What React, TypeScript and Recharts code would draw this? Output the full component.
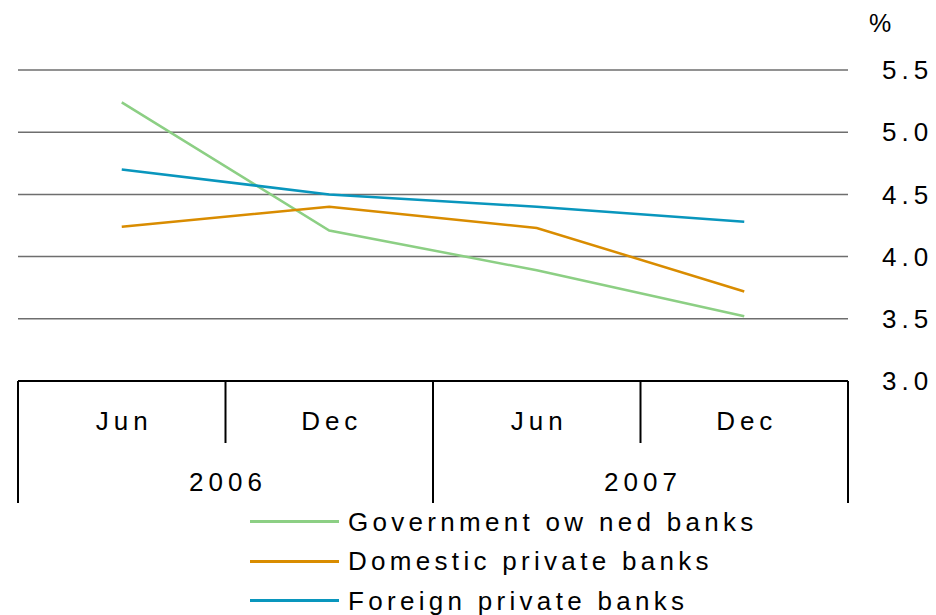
import { CartesianGrid, Line, LineChart, XAxis, YAxis } from "recharts";

const months = ["Jun", "Dec", "Jun", "Dec"];
const years = ["2006", "2006", "2007", "2007"];
const governmentOwned = [5.24, 4.21, 3.89, 3.52];
const domesticPrivate = [4.24, 4.4, 4.23, 3.72];
const foreignPrivate = [4.7, 4.5, 4.4, 4.28];
const yTicks = [3.0, 3.5, 4.0, 4.5, 5.0, 5.5];

const series = [
  { key: "government", name: "Government ow ned banks", color: "#8ccf84", values: governmentOwned },
  { key: "domestic", name: "Domestic private banks", color: "#d98c00", values: domesticPrivate },
  { key: "foreign", name: "Foreign private banks", color: "#0996bd", values: foreignPrivate },
];

const data = months.map((month, i) => {
  const row: Record<string, string | number> = { id: `${month} ${years[i]}` };
  series.forEach((s) => {
    row[s.key] = s.values[i];
  });
  return row;
});

const FONT = "'Liberation Sans', Arial, sans-serif";
const PLOT_WIDTH = 830;
const BAND = PLOT_WIDTH / months.length;
const AXIS_SPACING = 5;

function PeriodTick(props: any) {
  const { x, y, payload } = props;
  const i: number = props.index ?? payload.index;
  const left = x - BAND / 2;
  const yearStart = i === 0 || years[i] !== years[i - 1];
  const last = i === months.length - 1;
  const textStyle = { fontFamily: FONT, fontSize: 26, letterSpacing: AXIS_SPACING, fill: "#000" };

  return (
    <g>
      <line x1={left} x2={left} y1={y} y2={y + (yearStart ? 122 : 62)} stroke="#000" strokeWidth={2} />
      {last && <line x1={x + BAND / 2} x2={x + BAND / 2} y1={y} y2={y + 122} stroke="#000" strokeWidth={2} />}
      <text x={x + AXIS_SPACING / 2} y={y + 40} textAnchor="middle" dominantBaseline="central" style={textStyle}>
        {months[i]}
      </text>
      {!yearStart && (
        <text x={left + AXIS_SPACING / 2} y={y + 101} textAnchor="middle" dominantBaseline="central" style={textStyle}>
          {years[i]}
        </text>
      )}
    </g>
  );
}

export default function App() {
  return (
    <div style={{ position: "relative", width: 928, height: 607, fontFamily: FONT }}>
      <LineChart width={928} height={500} data={data} margin={{ top: 62, right: 0, left: 10, bottom: 0 }}>
        <CartesianGrid vertical={false} stroke="#6e6e6e" strokeWidth={1.5} />
        <XAxis
          dataKey="id"
          interval={0}
          height={127}
          padding={{ left: BAND / 2, right: BAND / 2 }}
          tickSize={0}
          tickMargin={0}
          tickLine={false}
          axisLine={{ stroke: "#000", strokeWidth: 2 }}
          tick={<PeriodTick />}
        />
        <YAxis
          orientation="right"
          width={88}
          domain={[3, 5.5]}
          ticks={yTicks}
          tickFormatter={(v: number) => v.toFixed(1)}
          axisLine={false}
          tickLine={false}
          tickSize={0}
          tickMargin={34}
          tick={{ fill: "#000", fontSize: 26, fontFamily: FONT, letterSpacing: 5 }}
          label={{ value: "%", position: "top", offset: 38, dx: -12, fill: "#000", fontSize: 25, fontFamily: FONT }}
        />
        {series.map((s) => (
          <Line
            key={s.key}
            type="linear"
            dataKey={s.key}
            name={s.name}
            stroke={s.color}
            strokeWidth={2.5}
            dot={false}
            activeDot={false}
            isAnimationActive={false}
          />
        ))}
      </LineChart>
      <div style={{ position: "absolute", left: 242, top: 494 }}>
        {series.map((s) => (
          <div key={s.key} style={{ display: "flex", alignItems: "center", height: 39.5 }}>
            <div style={{ width: 89, height: 3, background: s.color, marginRight: 9 }} />
            <span style={{ fontSize: 26, letterSpacing: 4.3, color: "#000", whiteSpace: "pre", lineHeight: "30px" }}>
              {s.name}
            </span>
          </div>
        ))}
      </div>
    </div>
  );
}
